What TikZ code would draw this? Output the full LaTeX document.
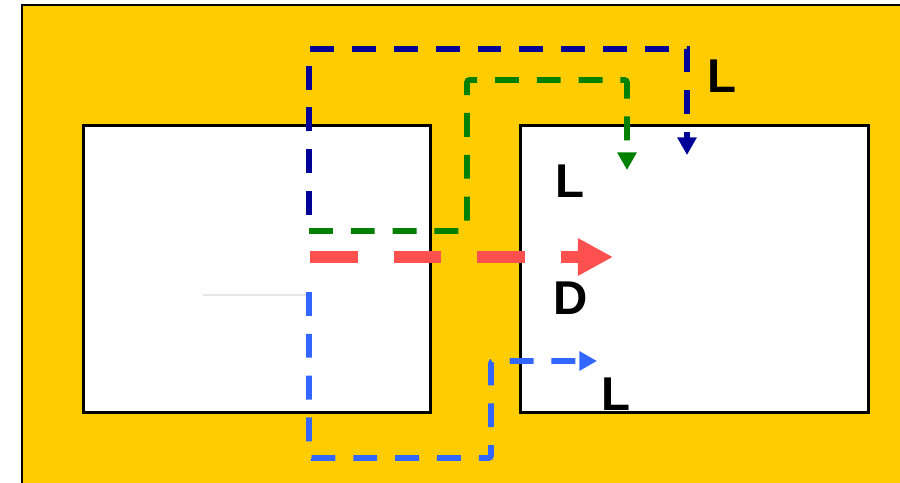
\documentclass[tikz,border=0pt]{standalone}
\usepackage{fontspec}
\setmainfont{Liberation Sans}
\usetikzlibrary{arrows.meta,positioning}
\definecolor{flYellow}{HTML}{FFCC00}
\definecolor{flNavy}{HTML}{000099}
\definecolor{flGreen}{HTML}{008000}
\definecolor{flRed}{HTML}{FF5050}
\definecolor{flBlue}{HTML}{3366FF}
\definecolor{flGray}{HTML}{E6E6E6}
\tikzset{
  % White region boxes
  regbox/.style={rectangle,draw=black,line width=1.5pt,fill=white,
    minimum width=6.95cm,minimum height=5.74cm,inner sep=0pt},
  % Big letter labels
  lbl/.style={font=\fontsize{27}{27}\selectfont\bfseries,inner sep=0pt},
  % Thin dashed paths
  thinpath/.style={line width=3.3pt,dash pattern=on 13.6pt off 10.2pt,
    -{Triangle[length=10pt,width=10.5pt]}},
  % Thick dashed path
  thickpath/.style={line width=6.8pt,dash pattern=on 27.2pt off 20.4pt,
    -{Triangle[length=20pt,width=20pt]}},
}
\begin{document}
\begin{tikzpicture}[x=0.02cm,y=-0.02cm]
  \useasboundingbox (0,0) rectangle (900,483);
  % Background
  \draw[fill=flYellow,draw=black,line width=1.5pt] (22,5) rectangle (920,500);

  \node[regbox] (left) at (257,269) {};
  \node[regbox] (right) at (694.5,269) {};

  % Start and bend points
  \coordinate (navyS) at (309,215);
  \coordinate (navyT) at (687,155);
  \coordinate (greenS) at (309,231);
  \coordinate (greenT) at (627,170);
  \coordinate (redS) at (310,257);
  \coordinate (redT) at (613,257);
  \coordinate (blueS) at (309,292);
  \coordinate (blueT) at (597,361);
  \coordinate (grayS) at (203,295);

  \draw[flGray,line width=1.3pt] (grayS) -- (309,295);

  \draw[thinpath,flNavy] (navyS) -- (309,49) -- (687,49) -- (navyT);
  \draw[thinpath,flGreen,rounded corners=1.5pt] (greenS) -- (467,231)
    -- (467,80) -- (627,80) -- (greenT);
  \draw[thickpath,flRed] (redS) -- (redT);
  \draw[thinpath,flBlue,rounded corners=1.5pt] (blueS) -- (309,458)
    -- (491,458) -- (491,361) -- (blueT);

  \node[lbl] (l1) at (722,76) {L};
  \node[lbl] (l2) at (570,181) {L};
  \node[lbl] (d) at (571,298) {D};
  \node[lbl] (l3) at (616,394) {L};
\end{tikzpicture}
\end{document}
